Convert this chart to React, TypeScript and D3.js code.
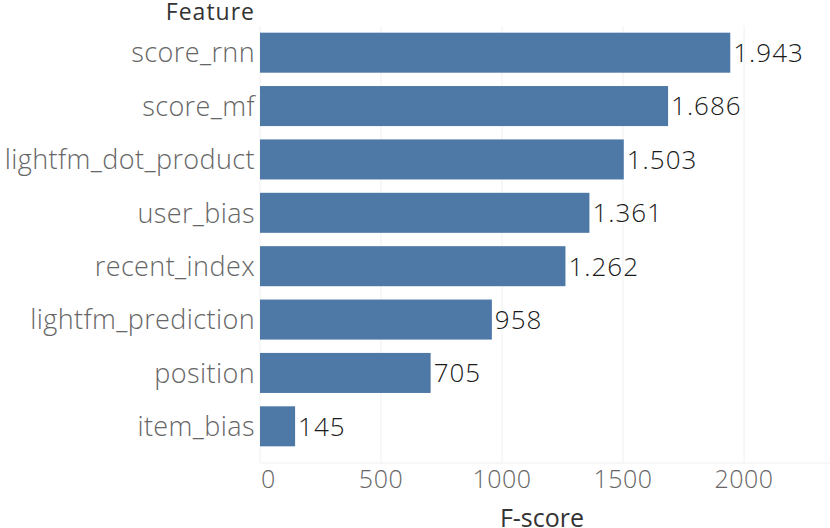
import React from "react";
import * as d3 from "d3";

const features = [
  "score_rnn",
  "score_mf",
  "lightfm_dot_product",
  "user_bias",
  "recent_index",
  "lightfm_prediction",
  "position",
  "item_bias",
];
const fscores = [1943, 1686, 1503, 1361, 1262, 958, 705, 145];
const xTicks = [0, 500, 1000, 1500, 2000];
const xTitle = "F-score";
const yTitle = "Feature";

const W = 830;
const H = 528;
const plotLeft = 260;
const plotRight = 830;
const plotTop = 26;
const plotBottom = 463;

const fmt = (v: number) => String(v).replace(/\B(?=(\d{3})+(?!\d))/g, ".");

export default function App() {
  const x = d3.scaleLinear().domain([0, 2355]).range([plotLeft, plotRight]);
  const y = d3
    .scaleBand<string>()
    .domain(features)
    .range([plotTop, 453])
    .paddingInner(0.25)
    .paddingOuter(0.125);
  const font = "'Open Sans', 'DejaVu Sans', sans-serif";
  return (
    <svg
      width={W}
      height={H}
      style={{ position: "absolute", left: 0, top: 0, background: "#fff" }}
      fontFamily={font}
    >
      {xTicks.map((t) => (
        <line
          key={"g" + t}
          x1={x(t)}
          x2={x(t)}
          y1={plotTop}
          y2={plotBottom}
          stroke="#f0f0f0"
          strokeWidth={1}
        />
      ))}
      <line x1={plotLeft} x2={plotRight} y1={plotBottom} y2={plotBottom} stroke="#f0f0f0" />
      {features.map((f, i) => (
        <g key={f}>
          <rect
            x={x(0)}
            y={y(f)!}
            width={x(fscores[i]) - x(0)}
            height={y.bandwidth()}
            fill="#4e79a7"
          />
          <text
            x={x(fscores[i]) + 3}
            y={y(f)! + y.bandwidth() / 2}
            dy="0.36em"
            fontSize={26}
            letterSpacing={1}
            fill="#1a1a1a"
            fontWeight={300}
          >
            {fmt(fscores[i])}
          </text>
          <text
            x={plotLeft - 5}
            y={y(f)! + y.bandwidth() / 2}
            dy="0.36em"
            textAnchor="end"
            fontSize={27}
            letterSpacing={0.4}
            fill="#666"
            fontWeight={300}
          >
            {f}
          </text>
        </g>
      ))}
      {xTicks.map((t, i) => (
        <text
          key={"t" + t}
          x={i === 0 ? x(t) + 1 : x(t)}
          y={488}
          textAnchor={i === 0 ? "start" : "middle"}
          fontSize={25}
          letterSpacing={0.5}
          fill="#666"
          fontWeight={300}
        >
          {t}
        </text>
      ))}
      <text x={542} y={527} textAnchor="middle" fontSize={25} fill="#333" fontWeight={500}>
        {xTitle}
      </text>
      <text x={255} y={20} textAnchor="end" fontSize={23} letterSpacing={1} fill="#333" fontWeight={500}>
        {yTitle}
      </text>
    </svg>
  );
}
